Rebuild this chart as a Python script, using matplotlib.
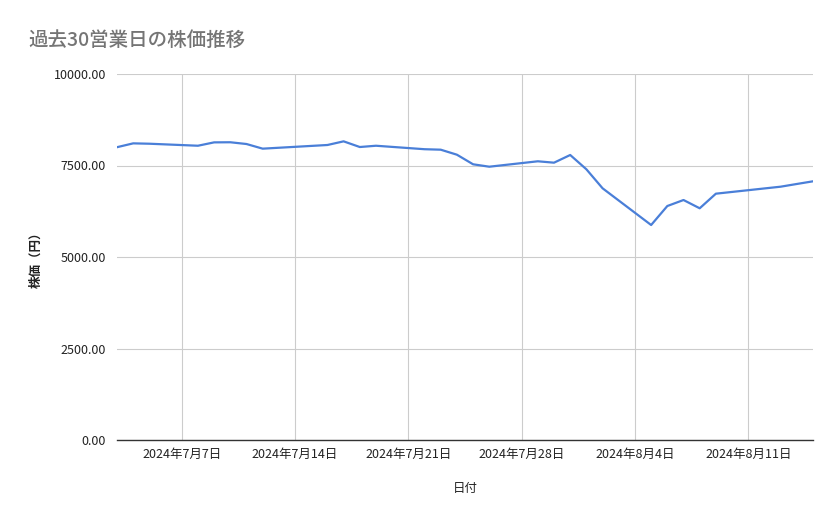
import matplotlib
matplotlib.use("Agg")
import matplotlib.pyplot as plt
import pandas as pd

plt.rcParams['font.family'] = ['Noto Sans CJK JP', 'DejaVu Sans']

# 過去30営業日の終値
dates = [
    "2024-07-03", "2024-07-04", "2024-07-05", "2024-07-08", "2024-07-09",
    "2024-07-10", "2024-07-11", "2024-07-12", "2024-07-16", "2024-07-17",
    "2024-07-18", "2024-07-19", "2024-07-22", "2024-07-23", "2024-07-24",
    "2024-07-25", "2024-07-26", "2024-07-29", "2024-07-30", "2024-07-31",
    "2024-08-01", "2024-08-02", "2024-08-05", "2024-08-06", "2024-08-07",
    "2024-08-08", "2024-08-09", "2024-08-13", "2024-08-14", "2024-08-15",
]
prices = [
    8000, 8105, 8095, 8040, 8132,
    8135, 8087, 7960, 8060, 8160,
    8005, 8040, 7945, 7932, 7795,
    7533, 7467, 7615, 7577, 7787,
    7396, 6877, 5874, 6393, 6557,
    6331, 6730, 6921, 6995, 7068,
]
tick_dates = ["2024-07-07", "2024-07-14", "2024-07-21", "2024-07-28",
              "2024-08-04", "2024-08-11"]
y_ticks = [0, 2500, 5000, 7500, 10000]

x = pd.to_datetime(dates)
ticks = pd.to_datetime(tick_dates)

fig = plt.figure(figsize=(8.39, 5.19), dpi=100)
ax = fig.add_axes([117 / 839, 1 - 440 / 519, (813 - 117) / 839, (440 - 74) / 519])

ax.plot(x, prices, color='#4a7fd8', linewidth=1.6, solid_joinstyle='round')

ax.set_xlim(x[0], x[-1])
ax.set_ylim(0, 10000)
ax.set_yticks(y_ticks)
ax.set_yticklabels([f"{v:.2f}" for v in y_ticks])
ax.set_xticks(ticks)
ax.set_xticklabels([f"{d.year}年{d.month}月{d.day}日" for d in ticks])

ax.grid(True, color='#cccccc', linewidth=0.8)
ax.set_axisbelow(True)
for side in ['top', 'right', 'left']:
    ax.spines[side].set_visible(False)
ax.spines['bottom'].set_color('#333333')
ax.spines['bottom'].set_linewidth(1.0)

ax.tick_params(axis='y', length=0, pad=8, labelsize=9, labelcolor='#222222')
ax.tick_params(axis='x', length=0, pad=6, labelsize=9, labelcolor='#222222')

ax.set_xlabel("日付", fontsize=9, color='#222222', labelpad=15)
ax.set_ylabel("株価（円）", fontsize=9, color='#222222', fontweight='bold', labelpad=8)

fig.text(28 / 839, 1 - 40 / 519, "過去30営業日の株価推移", fontsize=14,
         color='#757575', va='center', ha='left', fontweight='medium')

fig.savefig("out.png", dpi=100)
